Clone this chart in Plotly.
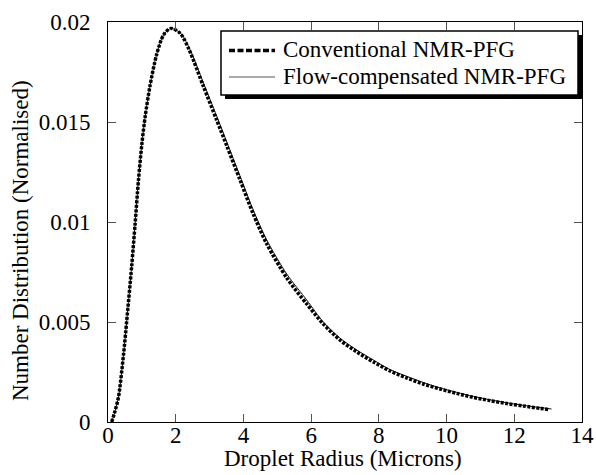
import plotly.graph_objects as go

# Droplet radius (microns) and normalised number distribution
conv_x = [0.11, 0.20, 0.31, 0.46, 0.55, 0.70, 0.80, 0.90, 1.00, 1.10, 1.24, 1.44, 1.64,
          1.85, 2.13, 2.40, 2.82, 3.21, 3.51, 3.90, 4.29, 4.69, 5.28, 5.87, 6.36, 6.85,
          7.35, 7.84, 8.33, 8.83, 9.31, 9.81, 10.30, 10.79, 11.28, 11.78, 12.27, 12.76, 13.00]
conv_y = [0.0, 0.0005, 0.00125, 0.0034, 0.0050, 0.0078, 0.0099, 0.0121, 0.0139, 0.0153,
          0.0168, 0.0184, 0.01935, 0.01968, 0.01944, 0.0186, 0.01677, 0.0151, 0.0138, 0.0121,
          0.0104, 0.0089, 0.0072, 0.0059, 0.0049, 0.0041, 0.0035, 0.0030, 0.00255, 0.0022,
          0.0019, 0.00165, 0.00143, 0.00123, 0.00107, 0.00092, 0.0008, 0.00068, 0.00063]

flow_x = [0.11, 0.20, 0.31, 0.46, 0.55, 0.70, 0.80, 0.90, 1.00, 1.10, 1.24, 1.44, 1.64,
          1.85, 2.13, 2.40, 2.82, 3.21, 3.51, 3.90, 4.29, 4.69, 5.28, 5.87, 6.36, 6.85,
          7.35, 7.84, 8.33, 8.83, 9.31, 9.81, 10.30, 10.79, 11.28, 11.78, 12.27, 12.76, 13.10]
flow_y = [0.0, 0.0005, 0.00125, 0.0034, 0.0050, 0.0078, 0.0099, 0.0121, 0.0139, 0.0153,
          0.0168, 0.0184, 0.01935, 0.01968, 0.01946, 0.0187, 0.01695, 0.0153, 0.0140, 0.0123,
          0.0106, 0.0091, 0.0074, 0.0061, 0.0050, 0.0042, 0.0036, 0.0031, 0.00262, 0.00228,
          0.00198, 0.0017, 0.00148, 0.00128, 0.00111, 0.00096, 0.00083, 0.00072, 0.00065]

series_names = ["Conventional NMR-PFG", "Flow-compensated NMR-PFG"]
x_ticks = [0, 2, 4, 6, 8, 10, 12, 14]
y_ticks = [0, 0.005, 0.01, 0.015, 0.02]
y_tick_labels = ["0", "0.005", "0.01", "0.015", "0.02"]
x_title = "Droplet Radius (Microns)"
y_title = "Number Distribution (Normalised)"

FONT = "Liberation Serif, Times New Roman, serif"
FS = 23
W, H = 596, 475
ML, MR, MT, MB = 108, 14, 22, 53
PW, PH = W - ML - MR, H - MT - MB


def px_x(p):
    return (p - ML) / PW


def px_y(p):
    return (H - MB - p) / PH


fig = go.Figure()
fig.add_trace(go.Scatter(
    x=flow_x, y=flow_y, mode="lines", name=series_names[1], showlegend=False,
    line=dict(color="#111111", width=1, shape="spline", smoothing=0.8),
))
fig.add_trace(go.Scatter(
    x=conv_x, y=conv_y, mode="lines", name=series_names[0], showlegend=False,
    line=dict(color="black", width=3.5, dash="3px,1.5px", shape="spline", smoothing=0.8),
))

axis_common = dict(
    showline=True, linecolor="black", linewidth=1, mirror="allticks",
    ticks="inside", ticklen=8, tickcolor="#555555", tickwidth=1,
    showgrid=False, zeroline=False, automargin=False,
    tickfont=dict(family=FONT, size=FS, color="black"),
)

# custom legend with drop shadow
box = dict(x0=221, x1=578, y0=31, y1=95)
shapes = [
    dict(type="rect", xref="paper", yref="paper", layer="above",
         x0=px_x(box["x0"] + 4), x1=px_x(box["x1"] + 4),
         y0=px_y(box["y1"] + 4), y1=px_y(box["y0"] + 4),
         fillcolor="black", line=dict(width=0)),
    dict(type="rect", xref="paper", yref="paper", layer="above",
         x0=px_x(box["x0"]), x1=px_x(box["x1"]),
         y0=px_y(box["y1"]), y1=px_y(box["y0"]),
         fillcolor="white", line=dict(color="black", width=1.5)),
    dict(type="line", xref="paper", yref="paper", layer="above",
         x0=px_x(229), x1=px_x(275), y0=px_y(50.5), y1=px_y(50.5),
         line=dict(color="black", width=3.5, dash="6px,2.5px")),
    dict(type="line", xref="paper", yref="paper", layer="above",
         x0=px_x(229), x1=px_x(275), y0=px_y(77), y1=px_y(77),
         line=dict(color="#555555", width=1)),
]
txt_font = dict(family=FONT, size=FS, color="black")
annotations = [
    dict(text=series_names[0], xref="paper", yref="paper", x=px_x(281), y=px_y(50),
         xanchor="left", yanchor="middle", showarrow=False, font=txt_font),
    dict(text=series_names[1], xref="paper", yref="paper", x=px_x(281), y=px_y(77),
         xanchor="left", yanchor="middle", showarrow=False, font=txt_font),
    # axis titles
    dict(text=x_title, xref="paper", yref="paper", x=px_x(343), y=px_y(458),
         xanchor="center", yanchor="middle", showarrow=False, font=txt_font),
    dict(text=y_title, xref="paper", yref="paper", x=px_x(20), y=px_y(241),
         xanchor="center", yanchor="middle", showarrow=False, textangle=-90, font=txt_font),
]

fig.update_layout(
    width=W, height=H,
    margin=dict(l=ML, r=MR, t=MT, b=MB),
    paper_bgcolor="white", plot_bgcolor="white",
    font=dict(family=FONT, size=FS, color="black"),
    xaxis=dict(range=[0, 14], tickvals=x_ticks, ticklabelstandoff=-8, **axis_common),
    yaxis=dict(range=[0, 0.02], tickvals=y_ticks, ticktext=y_tick_labels,
               ticklabelstandoff=12, **axis_common),
    showlegend=False,
    shapes=shapes,
    annotations=annotations,
)

fig.write_html(
    "out.html",
    config={"displayModeBar": False},
    post_script="document.body.style.margin='0';document.body.style.overflow='hidden';",
)
